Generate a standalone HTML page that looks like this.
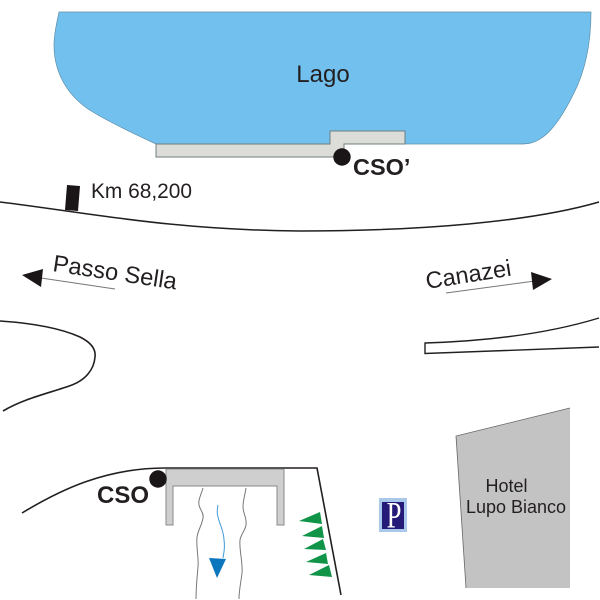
<!DOCTYPE html>
<html><head><meta charset="utf-8"><style>
html,body{margin:0;padding:0;background:#fff}
svg{display:block}
text{font-family:"Liberation Sans",sans-serif;fill:#231f20}
</style></head><body>
<svg width="600" height="600" viewBox="0 0 600 600" xmlns="http://www.w3.org/2000/svg">
<!-- lake -->
<path d="M59 12 L591 12 C591 40 586 70 573 95 C563 115 552 132 540 139 C534 143 528 144 520 144 L156 144 C130 132 105 120 88 109 C65 93 54 70 54 45 C54 33 57 22 59 12 Z" fill="#72c0ee" stroke="#5f8fa8" stroke-width=".7"/>
<path d="M156 144 L330 144 L330 131 L405 131 L405 144 L344 144 L344 157 L156 157 Z" fill="#dcdcd8" stroke="#6f7f80" stroke-width="1"/>
<circle cx="342" cy="157" r="8.700" fill="#1a1516"/>
<text x="323" y="82" font-size="24" text-anchor="middle">Lago</text>
<text x="353" y="175" font-size="23.500" font-weight="bold">CSO’</text>
<!-- upper road -->
<path d="M0 202 C90 213 170 230 300 231 C420 231 530 222 599 202" fill="none" stroke="#231f20" stroke-width="1.500"/>
<path d="M67 185 L80 186 L78 211 L65 210 Z" fill="#1a1516"/>
<text x="91" y="198" font-size="20.900">Km 68,200</text>
<!-- arrows -->
<path d="M41 278 L115 289" stroke="#777" stroke-width="1" fill="none"/>
<path d="M22 275 L43 269 L41 287 Z" fill="#1a1516"/>
<text transform="translate(52 271) rotate(8.500)" font-size="23.700">Passo Sella</text>
<path d="M446 293 L535 281" stroke="#777" stroke-width="1" fill="none"/>
<path d="M552 279 L531 272 L533 290 Z" fill="#1a1516"/>
<text transform="translate(427 289) rotate(-9)" font-size="23.500">Canazei</text>
<!-- left junction road -->
<path d="M0 321 C30 323 60 328 80 337 C92 343 96 350 95 357 C94 370 85 380 72 385 C50 393 25 398 3 411" fill="none" stroke="#231f20" stroke-width="1.600"/>
<!-- right junction road -->
<path d="M599 318 C550 333 490 341 425 343 L425 353.500 L599 347" fill="none" stroke="#231f20" stroke-width="1.400"/>
<!-- lower road -->
<path d="M22 513 C60 490 105 468 165 468 L317 468 L341 595" fill="none" stroke="#231f20" stroke-width="1.600"/>
<!-- bridge -->
<path d="M166 469 L284 469 L284 525 L277 525 L277 486 L173 486 L173 525 L166 525 Z" fill="#cfcfcf" stroke="#888" stroke-width="1"/>
<circle cx="158" cy="479" r="8.700" fill="#1a1516"/>
<text x="97" y="503" font-size="24" font-weight="bold">CSO</text>
<!-- stream -->
<path d="M203 488 C201 495 198 500 199 505 C200 510 204 513 203 518 C202 525 198 530 197 537 C196 548 199 558 198 567 C197 578 196 588 196 599" fill="none" stroke="#777" stroke-width="1"/>
<path d="M246 488 C245 495 243 500 243 507 C243 513 247 518 246 525 C245 531 241 534 240 540 C239 550 243 562 242 573 C241 582 239 590 239 599" fill="none" stroke="#777" stroke-width="1"/>
<path d="M218 505 C217 510 217 514 218 517 C220 525 224 532 224 540 C225 547 224 552 223 558" fill="none" stroke="#3f9ad6" stroke-width="1"/>
<path d="M209 558 L226 559 L217 578 Z" fill="#0c76bd"/>
<!-- green triangles -->
<g fill="#0f9448">
<path d="M299 521 L320 512 L322 524 Z"/>
<path d="M302 536 L322 526 L324 538 Z"/>
<path d="M304 549 L323 539 L326 550 Z"/>
<path d="M306 562 L326 553 L328 564 Z"/>
<path d="M309 575 L329 565 L332 577 Z"/>
</g>
<!-- parking -->
<rect x="379" y="498" width="28" height="34" fill="#a9c8ea"/>
<rect x="382" y="502" width="22" height="27" fill="#241a78"/>
<text transform="translate(394 527.500) scale(.72 1)" font-size="37" text-anchor="middle" style="font-family:'Liberation Serif',serif;fill:#fff">P</text>
<!-- hotel -->
<path d="M456 436 L570 408 L570 588 L466 588 Z" fill="#c3c3c3"/>
<path d="M570 408 L456 436 L466 588" fill="none" stroke="#666" stroke-width=".8"/>
<text x="506.500" y="492" font-size="18" text-anchor="middle">Hotel</text>
<text x="516" y="513" font-size="18" text-anchor="middle">Lupo Bianco</text>
</svg>
</body></html>
